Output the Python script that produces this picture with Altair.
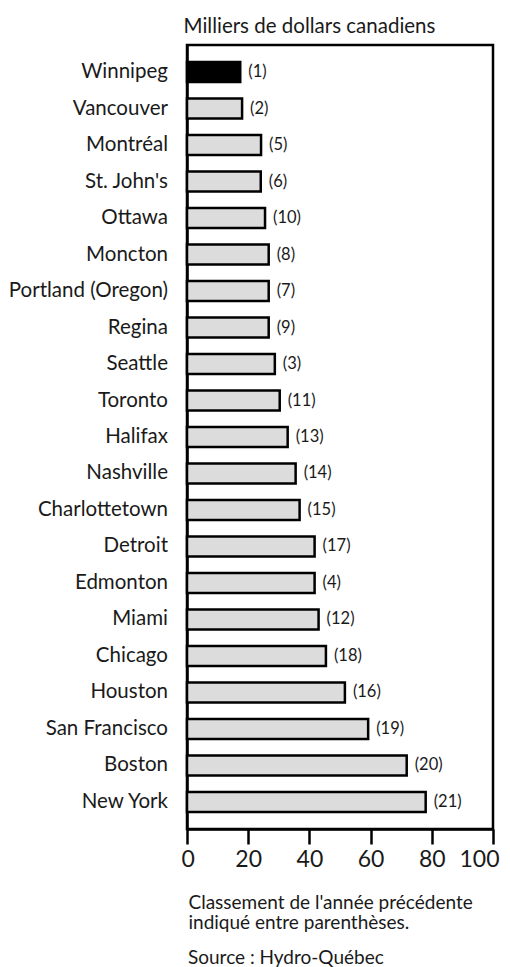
import altair as alt
import pandas as pd

cities = ["Winnipeg", "Vancouver", "Montréal", "St. John's", "Ottawa", "Moncton",
          "Portland (Oregon)", "Regina", "Seattle", "Toronto", "Halifax", "Nashville",
          "Charlottetown", "Detroit", "Edmonton", "Miami", "Chicago", "Houston",
          "San Francisco", "Boston", "New York"]
values = [17.4, 18.0, 24.2, 24.1, 25.5, 26.7, 26.7, 26.7, 28.7, 30.3, 32.9, 35.5,
          36.8, 41.7, 41.7, 43.0, 45.4, 51.6, 59.2, 71.8, 78.0]
previous_rank = [1, 2, 5, 6, 10, 8, 7, 9, 3, 11, 13, 14, 15, 17, 4, 12, 18, 16, 19, 20, 21]
highlight = ["Winnipeg"]
x_ticks = [0, 20, 40, 60, 80, 100]

unit_text = "Milliers de dollars canadiens"
note_lines = ["Classement de l'année précédente", "indiqué entre parenthèses."]
source_text = "Source : Hydro-Québec"

df = pd.DataFrame({
    "city": cities,
    "value": values,
    "rank": ["(" + str(r) + ")" for r in previous_rank],
    "hl": ["oui" if c in highlight else "non" for c in cities],
})

FONT = "Lato"
TXT = "#1a1a1a"

y_enc = alt.Y("city:N", sort=cities,
              scale=alt.Scale(paddingInner=0.45, paddingOuter=0.465),
              axis=alt.Axis(ticks=False, labelPadding=19.5, labelFontSize=20.5,
                            labelFont=FONT, labelColor=TXT, domainColor="black",
                            domainWidth=2.5, labelLimit=300,
                            title=unit_text, titleAngle=0, titleFont=FONT,
                            titleFontSize=20.5, titleFontWeight="normal", titleColor=TXT,
                            titleAlign="left", titleBaseline="alphabetic",
                            titleX=-4, titleY=-13))
x_enc = alt.X("value:Q",
              scale=alt.Scale(domain=[0, 100], nice=False),
              axis=alt.Axis(values=x_ticks, grid=False, tickSize=15, tickWidth=2.5,
                            tickColor="black", domainColor="black", domainWidth=2.5,
                            labelFontSize=23, labelFont=FONT, labelColor=TXT,
                            labelPadding=4, labelFlush=True, labelFlushOffset=6,
                            title=note_lines,
                            titleFont=FONT, titleFontSize=19, titleFontWeight="normal",
                            titleColor=TXT, titleAnchor="start", titleAlign="left",
                            titleBaseline="top", titleLineHeight=20.5,
                            titleX=1, titleY=64))

bars = alt.Chart(df).mark_bar(stroke="black", strokeWidth=2.5).encode(
    y=y_enc,
    x=x_enc,
    fill=alt.Fill("hl:N", scale=alt.Scale(domain=["oui", "non"], range=["black", "#dcdcdc"]),
                  legend=None),
)

labels = alt.Chart(df).mark_text(align="left", baseline="middle", dx=8, fontSize=16.5,
                                 font=FONT, color=TXT).encode(
    y=alt.Y("city:N", sort=cities),
    x=alt.X("value:Q"),
    text="rank:N",
)

chart = alt.layer(bars, labels).properties(
    width=306,
    height=784,
    title=alt.TitleParams(source_text, orient="bottom", anchor="start", frame="group",
                          font=FONT, fontSize=19, fontWeight="normal", color=TXT,
                          baseline="alphabetic", offset=31, dx=1),
    autosize=alt.AutoSizeParams(type="none"),
    padding={"left": 179, "top": 37, "right": 9, "bottom": 138},
    background="white",
).configure_view(stroke="black", strokeWidth=2.5)

chart.save("out.html", embed_options={"renderer": "svg", "actions": False})
